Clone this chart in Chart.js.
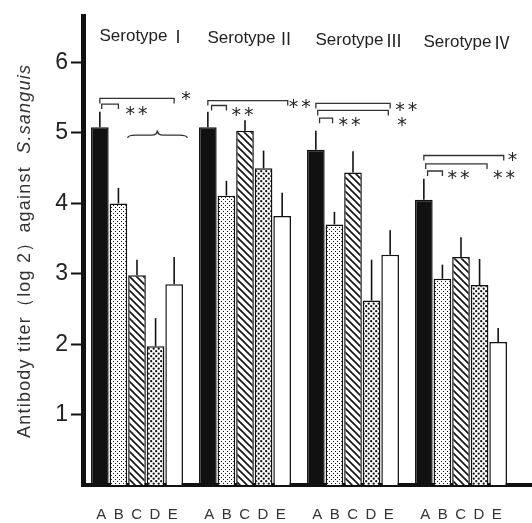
<!DOCTYPE html>
<html>
<head>
<meta charset="utf-8">
<script src="https://cdn.jsdelivr.net/npm/chart.js@4/dist/chart.umd.min.js"></script>
<style>
  html, body { margin: 0; padding: 0; background: #fff; }
  #wrap { width: 532px; height: 523px; }
</style>
</head>
<body>
<div id="wrap"><canvas id="titerChart" width="532" height="523"></canvas></div>
<script>
// data
const serotypes = ["Ⅰ", "Ⅱ", "Ⅲ", "Ⅳ"];
const barLabels = ["A", "B", "C", "D", "E"];
const valuesA = [5.08, 5.08, 4.76, 4.05];
const valuesB = [4.00, 4.11, 3.70, 2.93];
const valuesC = [2.98, 5.03, 4.44, 3.24];
const valuesD = [1.97, 4.50, 2.62, 2.84];
const valuesE = [2.85, 3.82, 3.27, 2.03];
const errA = [0.22, 0.22, 0.27, 0.30];
const errB = [0.22, 0.21, 0.18, 0.20];
const errC = [0.22, 0.15, 0.30, 0.28];
const errD = [0.40, 0.25, 0.58, 0.37];
const errE = [0.39, 0.33, 0.35, 0.20];
const yTicks = [1, 2, 3, 4, 5, 6];

// significance brackets: group, from/to (bar index A=0..E=4), level, mark
const brackets = [
    { g: 0, from: 0,   to: 4,   level: 5.49, mark: "*",  dx: 7, dy: -3 },
    { g: 0, from: 0.1, to: 1,   level: 5.41, mark: "**", dx: 7, dy: 6 },
    { g: 1, from: 0,   to: 4.3, level: 5.46, mark: "**", dx: 1, dy: 2 },
    { g: 1, from: 0.2, to: 1,   level: 5.39, mark: "**", dx: 5, dy: 6 },
    { g: 2, from: 0,   to: 4,   level: 5.42, mark: "**", dx: 5, dy: 3 },
    { g: 2, from: 0.1, to: 3.9, level: 5.32, mark: "*",  dx: 9, dy: 11 },
    { g: 2, from: 0.2, to: 0.9, level: 5.21, mark: "**", dx: 6, dy: 3 },
    { g: 3, from: 0,   to: 4.3, level: 4.68, mark: "*",  dx: 4, dy: 1 },
    { g: 3, from: 0.1, to: 3.4, level: 4.56, mark: "**", dx: 6, dy: 10 },
    { g: 3, from: 0.2, to: 1,   level: 4.46, mark: "**", dx: 5, dy: 3 }
];

const series = [valuesA, valuesB, valuesC, valuesD, valuesE];
const errors = [errA, errB, errC, errD, errE];

const sans = "'Liberation Sans', Arial, sans-serif";

// fill patterns
function makePattern(kind) {
    const c = document.createElement("canvas");
    const s = kind === "hatch" ? 7 : (kind === "dense" ? 5 : 4);
    c.width = s; c.height = s;
    const p = c.getContext("2d");
    p.fillStyle = "#fff";
    p.fillRect(0, 0, s, s);
    p.fillStyle = "#111";
    p.strokeStyle = "#111";
    if (kind === "light") {
        p.fillRect(1, 1, 1, 1);
        p.fillRect(3, 3, 1, 1);
    } else if (kind === "dense") {
        p.beginPath(); p.arc(1.2, 1.2, 1.15, 0, Math.PI * 2); p.fill();
        p.beginPath(); p.arc(3.7, 3.7, 1.15, 0, Math.PI * 2); p.fill();
    } else if (kind === "hatch") {
        p.lineWidth = 1.6;
        p.beginPath();
        p.moveTo(-1, -1); p.lineTo(s + 1, s + 1);
        p.moveTo(-1, s - 1); p.lineTo(1, s + 1);
        p.moveTo(s - 1, -1); p.lineTo(s + 1, 1);
        p.stroke();
    }
    return p.createPattern(c, "repeat");
}

const fills = ["#111", makePattern("light"), makePattern("hatch"), makePattern("dense"), "#fff"];

const decor = {
    id: "decor",
    afterDatasetsDraw(chart) {
        const ctx = chart.ctx;
        const y = chart.scales.y;
        const metas = series.map((s, d) => chart.getDatasetMeta(d));

        // error bars
        ctx.save();
        ctx.strokeStyle = "#111";
        ctx.lineWidth = 1.6;
        metas.forEach((meta, d) => {
            meta.data.forEach((bar, i) => {
                const v = series[d][i];
                ctx.beginPath();
                ctx.moveTo(bar.x, y.getPixelForValue(v));
                ctx.lineTo(bar.x, y.getPixelForValue(v + errors[d][i]));
                ctx.stroke();
            });
        });

        // brackets
        const barX = (g, t) => {
            const x0 = metas[0].data[g].x, x4 = metas[4].data[g].x;
            return x0 + (x4 - x0) * t / 4;
        };
        ctx.strokeStyle = "#333";
        ctx.lineWidth = 1.3;
        ctx.fillStyle = "#222";
        ctx.font = "19px 'DejaVu Sans', sans-serif";
        ctx.letterSpacing = "3px";
        ctx.textBaseline = "middle";
        brackets.forEach(b => {
            const x1 = barX(b.g, b.from), x2 = barX(b.g, b.to);
            const yy = y.getPixelForValue(b.level);
            ctx.beginPath();
            ctx.moveTo(x1, yy + 5); ctx.lineTo(x1, yy); ctx.lineTo(x2, yy); ctx.lineTo(x2, yy + 5);
            ctx.stroke();
            ctx.fillText(b.mark, x2 + b.dx, yy + b.dy + 5);
        });
        ctx.letterSpacing = "0px";

        // curly brace over C-E of serotype I
        const bx1 = barX(0, 1.5), bx2 = barX(0, 4.7), bm = (bx1 + bx2) / 2;
        const yb = y.getPixelForValue(4.93), yt = y.getPixelForValue(5.04);
        const ym = (yb + yt) / 2 + 1;
        ctx.beginPath();
        ctx.moveTo(bx1, yb);
        ctx.quadraticCurveTo(bx1, ym, bx1 + 8, ym);
        ctx.lineTo(bm - 6, ym);
        ctx.quadraticCurveTo(bm, ym, bm, yt);
        ctx.quadraticCurveTo(bm, ym, bm + 6, ym);
        ctx.lineTo(bx2 - 8, ym);
        ctx.quadraticCurveTo(bx2, ym, bx2, yb);
        ctx.stroke();

        // serotype headings
        ctx.textBaseline = "middle";
        ctx.textAlign = "left";
        serotypes.forEach((s, g) => {
            const left = metas[0].data[g].x - 9, right = metas[4].data[g].x + 9;
            const cx = (left + right) / 2 + 6;
            const cy = y.getPixelForValue(6.37) + g * 2;
            ctx.font = "17px " + sans;
            const w1 = ctx.measureText("Serotype").width + 2;
            ctx.font = "17px 'Noto Sans CJK JP', sans-serif";
            const w2 = ctx.measureText(s).width;
            const x = cx - (w1 + w2) / 2;
            ctx.font = "17px " + sans;
            ctx.fillText("Serotype", x, cy);
            ctx.font = "17px 'Noto Sans CJK JP', sans-serif";
            ctx.fillText(s, x + w1, cy);
        });
        ctx.restore();
    },
    afterDraw(chart) {
        const ctx = chart.ctx;
        const ca = chart.chartArea;
        ctx.save();
        // x axis line runs on to the right edge
        ctx.strokeStyle = "#111";
        ctx.lineWidth = 4;
        ctx.beginPath();
        ctx.moveTo(ca.right - 2, ca.bottom);
        ctx.lineTo(chart.width, ca.bottom);
        ctx.stroke();

        // y axis title with italic species name
        const part1 = "Antibody titer（log 2）against  ";
        const part2 = "S.sanguis";
        ctx.letterSpacing = "1.2px";
        const f1 = "18px " + sans;
        const f2 = "italic 18px " + sans;
        ctx.font = f1;
        const w1 = ctx.measureText(part1).width;
        ctx.font = f2;
        const w2 = ctx.measureText(part2).width;
        ctx.translate(25, (ca.top + ca.bottom) / 2);
        ctx.rotate(-Math.PI / 2);
        ctx.fillStyle = "#333";
        ctx.textBaseline = "middle";
        ctx.textAlign = "left";
        ctx.font = f1;
        ctx.fillText(part1, -(w1 + w2) / 2, 0);
        ctx.font = f2;
        ctx.fillText(part2, -(w1 + w2) / 2 + w1, 0);
        ctx.restore();
    }
};

new Chart("titerChart", {
    type: "bar",
    data: {
        labels: serotypes.map(s => "Serotype " + s),
        datasets: series.map((vals, d) => ({
            label: barLabels[d],
            data: vals,
            backgroundColor: fills[d],
            borderColor: "#111",
            borderWidth: 1.5,
            categoryPercentage: 0.86,
            barPercentage: 0.95
        }))
    },
    options: {
        responsive: false,
        animation: false,
        layout: { padding: { top: 12, right: 17, left: 0, bottom: 0 } },
        plugins: {
            legend: { display: false },
            tooltip: { enabled: false }
        },
        scales: {
            x: {
                grid: { display: false },
                border: { color: "#111", width: 4 },
                ticks: {
                    padding: 13,
                    color: "#333",
                    font: { family: sans, size: 15 },
                    callback: () => barLabels.join("\u2002")
                },
                afterFit: scale => { scale.height = 38; }
            },
            y: {
                min: 0,
                max: 6.65,
                afterBuildTicks: scale => { scale.ticks = yTicks.map(v => ({ value: v })); },
                grid: { drawOnChartArea: false, tickLength: 12, tickColor: "#111", tickWidth: 2 },
                border: { color: "#111", width: 5 },
                ticks: {
                    padding: 3,
                    color: "#222",
                    font: { family: sans, size: 23 }
                },
                afterFit: scale => { scale.width = 83; }
            }
        }
    },
    plugins: [decor]
});
</script>
</body>
</html>
